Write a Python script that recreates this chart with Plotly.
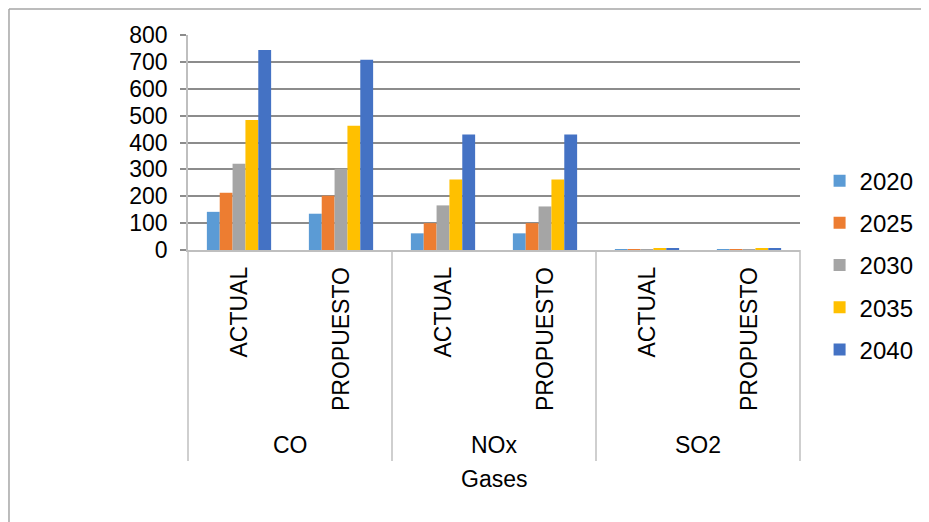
import plotly.graph_objects as go

gases = ["CO", "NOx", "SO2"]
escenarios = ["ACTUAL", "PROPUESTO"]
years = ["2020", "2025", "2030", "2035", "2040"]
colors = ["#5B9BD5", "#ED7D31", "#A5A5A5", "#FFC000", "#4472C4"]

# values per year, order: CO-ACTUAL, CO-PROPUESTO, NOx-ACTUAL, NOx-PROPUESTO, SO2-ACTUAL, SO2-PROPUESTO
v2020 = [142, 135, 62, 62, 1.5, 1.5]
v2025 = [213, 202, 100, 100, 1.5, 1.5]
v2030 = [321, 302, 166, 162, 2, 2]
v2035 = [484, 462, 262, 262, 4, 4]
v2040 = [744, 708, 430, 430, 5, 5]
series = [v2020, v2025, v2030, v2035, v2040]

y_ticks = [0, 100, 200, 300, 400, 500, 600, 700, 800]

FONT = "Liberation Sans, Arial, sans-serif"

cats = [(g, e) for g in gases for e in escenarios]
xpos = list(range(len(cats)))
n = len(cats)

fig = go.Figure()
for yr, vals, c in zip(years, series, colors):
    fig.add_trace(go.Bar(x=xpos, y=vals, name=yr, marker_color=c,
                         marker_line_width=0, legendgroup=yr))

def dom(p):
    return (p + 0.5) / n

shapes = []
# outer chart border (left and top edges visible)
bx, by = -0.2925, 1.121
shapes.append(dict(type="line", xref="paper", yref="paper",
                   x0=bx, x1=bx, y0=-1.5, y1=by,
                   line=dict(color="#a6a6a6", width=1.5), layer="below"))
shapes.append(dict(type="line", xref="paper", yref="paper",
                   x0=bx, x1=1.4, y0=by, y1=by,
                   line=dict(color="#a6a6a6", width=1.5), layer="below"))
# group separators
for k in range(len(gases) + 1):
    p = k * len(escenarios) - 0.5
    shapes.append(dict(type="line", xref="paper", yref="paper",
                       x0=dom(p), x1=dom(p), y0=0, y1=-0.981,
                       line=dict(color="#bfbfbf", width=1.5)))

annotations = []
for i, (g, e) in enumerate(cats):
    annotations.append(dict(x=dom(i), y=-0.07, xref="paper", yref="paper",
                            text=e, textangle=-90, showarrow=False,
                            xanchor="center", yanchor="top",
                            font=dict(family=FONT, size=23, color="#000")))
for j, g in enumerate(gases):
    center = j * len(escenarios) + (len(escenarios) - 1) / 2
    annotations.append(dict(x=dom(center), y=-0.907, xref="paper", yref="paper",
                            text=g, showarrow=False, xanchor="center", yanchor="middle",
                            font=dict(family=FONT, size=23, color="#000")))
annotations.append(dict(x=0.5, y=-1.065, xref="paper", yref="paper",
                        text="Gases", showarrow=False, xanchor="center", yanchor="middle",
                        font=dict(family=FONT, size=23, color="#000")))

fig.update_layout(
    width=929, height=522,
    margin=dict(l=180, r=137, t=27, b=280),
    paper_bgcolor="white", plot_bgcolor="white",
    barmode="group", bargap=0.37, bargroupgap=0,
    font=dict(family=FONT, color="#000"),
    shapes=shapes, annotations=annotations,
    legend=dict(x=1.032, y=-0.07, xanchor="left", yanchor="middle",
                traceorder="grouped", tracegroupgap=8,
                font=dict(family=FONT, size=24, color="#000"),
                bgcolor="rgba(0,0,0,0)"),
    xaxis=dict(range=[-0.5, n - 0.5], showticklabels=False, showgrid=False,
               zeroline=False, showline=True, linecolor="#bfbfbf", linewidth=1.5,
               ticks=""),
    yaxis=dict(range=[0, 800], tickvals=y_ticks, showgrid=True,
               gridcolor="#8c8c8c", gridwidth=1.5, zeroline=False,
               showline=True, linecolor="#bfbfbf", linewidth=1.5,
               ticks="outside", ticklen=6, tickcolor="#8c8c8c", tickwidth=1.5,
               ticklabelstandoff=8,
               tickfont=dict(family=FONT, size=23, color="#000")),
)

fig.write_html("out.html")
